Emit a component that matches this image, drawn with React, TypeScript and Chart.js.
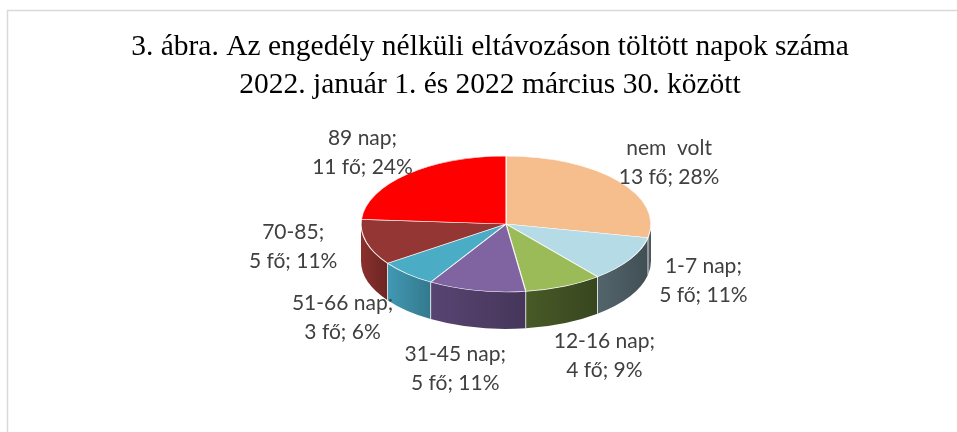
import React, { useEffect, useRef } from 'react';
import { Chart, registerables, layouts } from 'chart.js';

Chart.register(...registerables);

// ---- data ----
const titleLines = [
  '3. ábra. Az engedély nélküli eltávozáson töltött napok száma',
  '2022. január 1. és 2022 március 30. között',
];
const categories = ['nem  volt', '1-7 nap', '12-16 nap', '31-45 nap', '51-66 nap', '70-85', '89 nap'];
const nameSuffix = ['', ';', ';', ';', ';', ';', ';'];
const counts = [13, 5, 4, 5, 3, 5, 11];
const percents = [28, 11, 9, 11, 6, 11, 24];
const unit = 'fő';

// ---- styles ----
const topColors = ['#F6BD8D', '#B5DCE6', '#9BBB59', '#8064A2', '#4BACC6', '#943634', '#FF0000'];
const sideColors = ['#525e63', '#4a5a60', '#405023', '#4f3d66', '#3a89a0', '#7b2b29', '#990000'];

function shade(hex: string, f: number): string {
  const n = parseInt(hex.slice(1), 16);
  const r = Math.min(255, Math.round(((n >> 16) & 255) * f));
  const g = Math.min(255, Math.round(((n >> 8) & 255) * f));
  const b = Math.min(255, Math.round((n & 255) * f));
  return `rgb(${r},${g},${b})`;
}

const TILT = 0.469;
const DEPTH = 37;

const framePlugin = {
  id: 'frame',
  beforeDraw(chart: any) {
    const ctx = chart.ctx;
    ctx.save();
    ctx.strokeStyle = '#d9d9d9';
    ctx.lineWidth = 1.5;
    ctx.strokeRect(7.5, 10.5, 2000, 1000);
    ctx.restore();
  },
};

const spacerPlugin = {
  id: 'spacer',
  beforeInit(chart: any) {
    const box: any = {
      position: 'left',
      weight: 0,
      fullSize: false,
      options: { display: true },
      left: 0,
      top: 0,
      right: 0,
      bottom: 0,
      width: 0,
      height: 0,
      isHorizontal() {
        return false;
      },
      update(maxW: number, maxH: number) {
        this.width = 32;
        this.height = maxH;
      },
      draw() {},
    };
    layouts.addBox(chart, box);
  },
};

const pie3dPlugin = {
  id: 'pie3d',
  beforeDatasetsDraw(chart: any) {
    const meta = chart.getDatasetMeta(0);
    const ctx = chart.ctx;
    const a0 = meta.data[0];
    const cx = a0.x;
    const cy = a0.y;
    const rx = a0.outerRadius;
    const ry = rx * TILT;
    // side walls (front half only)
    meta.data.forEach((arc: any, i: number) => {
      const s = Math.max(arc.startAngle, 0);
      const e = Math.min(arc.endAngle, Math.PI);
      if (e <= s) return;
      const xs = cx + rx * Math.cos(s);
      const xe = cx + rx * Math.cos(e);
      const grad = ctx.createLinearGradient(Math.min(xs, xe), 0, Math.max(xs, xe), 0);
      grad.addColorStop(0, shade(sideColors[i], 1.12));
      grad.addColorStop(1, shade(sideColors[i], 0.88));
      ctx.save();
      ctx.beginPath();
      ctx.ellipse(cx, cy, rx, ry, 0, s, e, false);
      ctx.lineTo(cx + rx * Math.cos(e), cy + DEPTH + ry * Math.sin(e));
      ctx.ellipse(cx, cy + DEPTH, rx, ry, 0, e, s, true);
      ctx.closePath();
      ctx.fillStyle = grad;
      ctx.fill();
      ctx.restore();
    });
    // side edge lines at slice boundaries
    ctx.save();
    ctx.strokeStyle = 'rgba(255,255,255,0.75)';
    ctx.lineWidth = 1;
    meta.data.forEach((arc: any) => {
      const a = arc.startAngle;
      if (a > 0.05 && a < Math.PI) {
        const x = cx + rx * Math.cos(a);
        const y = cy + ry * Math.sin(a);
        ctx.beginPath();
        ctx.moveTo(x, y);
        ctx.lineTo(x, y + DEPTH);
        ctx.stroke();
      }
    });
    ctx.restore();
    // flatten top face
    ctx.save();
    ctx.translate(cx, cy);
    ctx.scale(1, TILT);
    ctx.translate(-cx, -cy);
  },
  afterDatasetsDraw(chart: any) {
    const ctx = chart.ctx;
    ctx.restore();
    const meta = chart.getDatasetMeta(0);
    const a0 = meta.data[0];
    const cx = a0.x;
    const cy = a0.y;
    const rx = a0.outerRadius;
    ctx.save();
    ctx.font = '21px Lato';
    ctx.fillStyle = '#404040';
    ctx.textAlign = 'center';
    ctx.textBaseline = 'middle';
    const lh = 29;
    meta.data.forEach((arc: any, i: number) => {
      const mid = (arc.startAngle + arc.endAngle) / 2;
      const ux = Math.cos(mid);
      const uy = Math.sin(mid);
      const x = cx + ux * rx * 1.45 + (uy > 0 ? ux * uy * 40 : 0);
      const y = uy < 0 ? cy + uy * 97 : cy - 3 + uy * 75 + 78 * uy * uy;
      const lines = [categories[i] + nameSuffix[i], `${counts[i]} ${unit}; ${percents[i]}%`];
      ctx.fillText(lines[0], x, y - lh / 2);
      ctx.fillText(lines[1], x, y + lh / 2);
    });
    ctx.restore();
  },
};

export default function App() {
  const ref = useRef<HTMLCanvasElement | null>(null);
  useEffect(() => {
    if (!ref.current) return;
    const chart = new Chart(ref.current, {
      type: 'pie',
      data: {
        labels: categories,
        datasets: [
          {
            data: counts,
            backgroundColor: topColors,
            borderColor: 'rgba(255,255,255,0.85)',
            borderWidth: 1.2,
            radius: 145,
            clip: false,
          } as any,
        ],
      },
      options: {
        responsive: false,
        animation: false,
        layout: { padding: { left: 23, right: 0, top: 0, bottom: 98 } },
        plugins: {
          legend: { display: false },
          tooltip: { enabled: false },
          title: {
            display: true,
            text: titleLines,
            color: '#000000',
            font: { family: '"Liberation Serif", "Times New Roman", serif', size: 29.5, weight: 'normal', lineHeight: 1.288 },
            padding: { top: 28, bottom: 10 },
          },
        },
      } as any,
      plugins: [framePlugin, spacerPlugin, pie3dPlugin],
    });
    return () => chart.destroy();
  }, []);
  return (
    <div style={{ position: 'absolute', left: 0, top: 0, width: 957, height: 432, background: '#ffffff' }}>
      <canvas ref={ref} width={957} height={432} style={{ display: 'block' }} />
    </div>
  );
}
